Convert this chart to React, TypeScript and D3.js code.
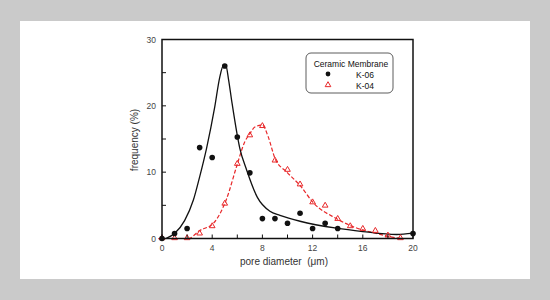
import React from 'react'
import * as d3 from 'd3'

const W = 550
const H = 300
const PLOT = { left: 162, right: 413, top: 39.5, bottom: 238.5 }

// measured points
const k06X = [0, 1, 2, 3, 4, 5, 6, 7, 8, 9, 10, 11, 12, 13, 14, 20]
const k06Y = [0, 0.75, 1.5, 13.7, 12.2, 26, 15.3, 9.9, 3.0, 3.0, 2.3, 3.8, 1.5, 2.3, 1.5, 0.75]
const k04X = [0, 1, 2, 3, 4, 5, 6, 7, 8, 9, 10, 11, 12, 13, 14, 15, 16, 17, 18, 19]
const k04Y = [0, 0, 0, 0.7, 1.8, 5.2, 11.2, 15.5, 16.9, 11.7, 10.3, 8.1, 5.4, 4.9, 2.9, 1.8, 1.4, 1.1, 0.4, 0]

// fitted curves
const fit06X = [0.3, 1, 1.8, 2.5, 3.0, 3.55, 4.2, 4.6, 4.9, 5.1, 5.3, 5.55, 6.2, 6.75, 7.6, 8.6, 9.4, 11, 13.9, 16, 18.7, 20]
const fit06Y = [0, 0.75, 2.7, 5.8, 9.3, 13.6, 19.8, 24.3, 26.1, 26.0, 24.0, 20.8, 13.6, 10.3, 6.2, 4.1, 3.5, 2.6, 1.55, 1.05, 0.6, 0.8]
const fit04X = [-0.3, 2.1, 3.0, 4.1, 5.15, 5.95, 6.6, 7.0, 7.4, 8.0, 8.45, 9.0, 9.95, 11, 12.05, 13.9, 15.2, 17.1, 18.2, 19.2, 20]
const fit04Y = [0, 0, 1.2, 2.3, 6.0, 10.9, 14.6, 15.8, 16.8, 17.1, 15.4, 12.1, 10.0, 8.0, 5.4, 3.0, 1.8, 0.75, 0.25, 0, 0]

const xTicks = [0, 4, 8, 12, 16, 20]
const xMinor = [2, 6, 10, 14, 18]
const yTicks = [0, 10, 20, 30]
const yMinor = [5, 15, 25]

const RED = '#e8282a'
const FONT = 'Liberation Sans, Arial, sans-serif'

export default function App() {
  const x = d3.scaleLinear().domain([0, 20]).range([PLOT.left, PLOT.right])
  const y = d3.scaleLinear().domain([0, 30]).range([PLOT.bottom, PLOT.top])

  const line = d3
    .line<[number, number]>()
    .x((d) => x(d[0]))
    .y((d) => y(d[1]))
    .curve(d3.curveMonotoneX)

  const fit06 = fit06X.map((v, i) => [v, fit06Y[i]] as [number, number])
  const fit04 = fit04X.map((v, i) => [v, fit04Y[i]] as [number, number])
  const tri = d3.symbol().type(d3.symbolTriangle).size(14)()

  return (
    <div style={{ position: 'absolute', left: 0, top: 0 }}>
      <svg width={W} height={H} style={{ display: 'block' }} fontFamily={FONT}>
        <rect x={0} y={0} width={W} height={H} fill="#cacaca" />
        <rect x={20} y={21} width={510} height={258} fill="#ffffff" />

        {/* curves */}
        <path d={line(fit04) ?? ''} fill="none" stroke={RED} strokeWidth={1.2} strokeDasharray="4 2" />
        <path d={line(fit06) ?? ''} fill="none" stroke="#111" strokeWidth={1.3} />

        {/* points */}
        {k04X.map((v, i) => (
          <path
            key={'t' + i}
            d={tri ?? ''}
            transform={`translate(${x(v)},${y(k04Y[i]) - 0.5})`}
            fill="none"
            stroke={RED}
            strokeWidth={1}
          />
        ))}
        {k06X.map((v, i) => (
          <circle key={'c' + i} cx={x(v)} cy={y(k06Y[i])} r={2.8} fill="#111" />
        ))}

        {/* frame */}
        <rect
          x={PLOT.left}
          y={PLOT.top}
          width={PLOT.right - PLOT.left}
          height={PLOT.bottom - PLOT.top}
          fill="none"
          stroke="#111"
          strokeWidth={1.5}
        />

        {/* x ticks */}
        {xTicks.concat(xMinor).map((t) => (
          <line key={'xt' + t} x1={x(t)} x2={x(t)} y1={PLOT.bottom} y2={PLOT.bottom - 4} stroke="#111" strokeWidth={1} />
        ))}
        {xTicks.map((t) => (
          <text key={'xl' + t} x={x(t)} y={251} textAnchor="middle" fontSize={8.5} fill="#444">
            {t}
          </text>
        ))}

        {/* y ticks */}
        {yTicks.concat(yMinor).map((t) => (
          <line key={'yt' + t} x1={PLOT.left} x2={PLOT.left + 4} y1={y(t)} y2={y(t)} stroke="#111" strokeWidth={1} />
        ))}
        {yTicks.map((t) => (
          <text key={'yl' + t} x={156} y={y(t) + 3} textAnchor="end" fontSize={8.5} fill="#444">
            {t}
          </text>
        ))}

        {/* axis labels */}
        <text x={284} y={265} textAnchor="middle" fontSize={10} fill="#333" xmlSpace="preserve">
          pore diameter  (μm)
        </text>
        <text
          transform={`translate(138,140) rotate(-90)`}
          textAnchor="middle"
          fontSize={10}
          fill="#333"
        >
          frequency (%)
        </text>

        {/* legend */}
        <rect x={306} y={53} width={87} height={40} rx={5} fill="#fff" stroke="#333" strokeWidth={0.8} />
        <text x={351} y={67} textAnchor="middle" fontSize={8.5} fill="#111">
          Ceramic Membrane
        </text>
        <circle cx={328} cy={74} r={2.4} fill="#111" />
        <text x={356} y={77.5} fontSize={8.5} fill="#111">
          K-06
        </text>
        <path d={tri ?? ''} transform="translate(328,85)" fill="none" stroke={RED} strokeWidth={1} />
        <text x={356} y={89} fontSize={8.5} fill="#111">
          K-04
        </text>
      </svg>
    </div>
  )
}
